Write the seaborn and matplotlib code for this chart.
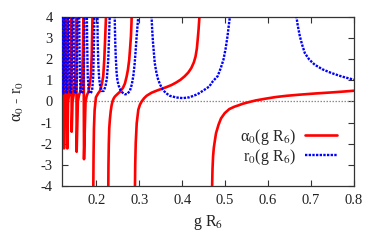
import matplotlib
matplotlib.use("Agg")
import matplotlib.pyplot as plt
from matplotlib.lines import Line2D
import seaborn as sns
import pandas as pd

# ---------------- data ----------------
# alpha_0(g R6): branches between poles (values beyond +-4 are clipped by the axes)
a0_left_g = [0.1200, 0.1215, 0.12313, 0.12429, 0.12471,
             0.12606, 0.12859, 0.13045, 0.13184, 0.13234,
             0.13411, 0.13748, 0.14000, 0.14189, 0.14257,
             0.14456, 0.14835, 0.15122, 0.15334, 0.15412,
             0.15698, 0.15951, 0.16252, 0.16681, 0.16850, 0.17005, 0.17125,
             0.17479, 0.17795, 0.18173, 0.18712, 0.18929, 0.19129]
a0_left_v = [0.20, 0.46, 1.2, 4.3, -2.22,
             0.0, 0.46, 1.2, 4.3, -2.22,
             0.0, 0.46, 1.2, 4.3, -1.43,
             0.0, 0.46, 1.2, 4.3, -2.38,
             0.0, 0.30, 0.46, 1.2, 2.2, 4.3, -2.73,
             0.0, 0.30, 0.46, 1.2, 2.2, 4.3]
a0_b2_g = [0.1928, 0.1935, 0.1944, 0.1960, 0.1990, 0.2040, 0.2084, 0.2130,
           0.2160, 0.2185, 0.2205, 0.2230]
a0_b2_v = [-4.3, -2.5, -1.27, -0.4, 0.2, 0.38, 0.5, 0.85, 1.2, 2.0, 3.0, 4.3]
a0_b3_g = [0.2277, 0.2282, 0.2290, 0.2300, 0.2315, 0.2335, 0.2356, 0.2380,
           0.2405, 0.2430, 0.2480, 0.2549, 0.2620, 0.2665, 0.2705, 0.2735,
           0.2765, 0.2785, 0.2805, 0.2818, 0.2828]
a0_b3_v = [-4.3, -3.0, -2.0, -1.27, -0.85, -0.45, -0.17, 0.03,
           0.15, 0.23, 0.33, 0.46, 0.65, 0.85, 1.18, 1.5,
           1.97, 2.5, 3.07, 3.7, 4.4]
a0_b4_g = [0.2898, 0.2905, 0.2917, 0.2940, 0.2977, 0.3015, 0.3055, 0.3110,
           0.3170, 0.3280, 0.3400, 0.3520, 0.3630, 0.3750, 0.3860, 0.3960,
           0.4055, 0.4140, 0.4210, 0.4270, 0.4310, 0.4340, 0.4360, 0.4380,
           0.4400, 0.4412]
a0_b4_v = [-4.3, -3.0, -1.97, -1.03, -0.39, -0.15, 0.0, 0.15,
           0.27, 0.41, 0.51, 0.60, 0.68, 0.78, 0.90, 1.03,
           1.19, 1.37, 1.58, 1.85, 2.13, 2.5, 2.93, 3.4,
           4.0, 4.4]
a0_b5_g = [0.4688, 0.4696, 0.4705, 0.4718, 0.4735, 0.4760, 0.4787, 0.4845,
           0.4903, 0.4990, 0.5095, 0.5210, 0.5326, 0.5403, 0.5550, 0.5710,
           0.5930, 0.6173, 0.6430, 0.6712, 0.7100, 0.7481, 0.7750, 0.8000]
a0_b5_v = [-4.3, -4.0, -3.2, -2.6, -2.2, -1.85, -1.5, -1.1,
           -0.8, -0.55, -0.36, -0.25, -0.17, -0.11, -0.03, 0.05,
           0.13, 0.21, 0.27, 0.32, 0.38, 0.43, 0.47, 0.51]

# r_0(g R6): U-shaped branches between poles
r0_u10_g = [0.12584, 0.12549, 0.12510, 0.12432, 0.12318, 0.12208, 0.12136, 0.12100, 0.12069]
r0_u9_g = [0.13393, 0.13351, 0.13304, 0.13211, 0.13074, 0.12942, 0.12857, 0.12814, 0.12778]
r0_u8_g = [0.14381, 0.14330, 0.14271, 0.14156, 0.13989, 0.13828, 0.13723, 0.13672, 0.13627]
r0_u7_g = [0.15627, 0.15561, 0.15486, 0.15339, 0.15127, 0.14924, 0.14793, 0.14728, 0.14673]
r0_u6_g = [0.17265, 0.17175, 0.17075, 0.16879, 0.16598, 0.16330, 0.16159, 0.16075, 0.16003]
r0_u5_g = [0.19555, 0.19426, 0.19281, 0.19000, 0.18602, 0.18227, 0.17990, 0.17874, 0.17775]
r0_narrow_v = [4.3, 2.7, 1.2, 0.5, 0.38, 0.5, 1.2, 2.7, 4.3]
r0_u4_g = [0.2025, 0.2030, 0.2045, 0.2065, 0.2090, 0.2130, 0.2170, 0.2210,
           0.2245, 0.2275, 0.2295, 0.2315]
r0_u4_v = [4.3, 3.0, 1.8, 1.1, 0.7, 0.5, 0.5, 0.7, 1.1, 1.9, 3.0, 4.3]
r0_u3_g = [0.2425, 0.2432, 0.2440, 0.2450, 0.2470, 0.2490, 0.2520, 0.2560,
           0.2610, 0.2665, 0.2720, 0.2780, 0.2825, 0.2860, 0.2890, 0.2915,
           0.2935, 0.2955, 0.2975, 0.2985]
r0_u3_v = [4.4, 3.5, 2.8, 2.2, 1.4, 1.0, 0.75, 0.55,
           0.42, 0.34, 0.36, 0.50, 0.80, 1.20, 1.75, 2.4,
           3.0, 3.5, 4.0, 4.4]
r0_u2_g = [0.3283, 0.3286, 0.3300, 0.3320, 0.3360, 0.3400, 0.3440, 0.3490,
           0.3550, 0.3620, 0.3710, 0.3860, 0.4016, 0.4170, 0.4325, 0.4400,
           0.4520, 0.4630, 0.4710, 0.4825, 0.4900, 0.4960, 0.5010, 0.5055,
           0.5090, 0.5110, 0.5120]
r0_u2_v = [4.4, 4.0, 3.4, 2.77, 1.82, 1.35, 1.03, 0.78,
           0.55, 0.40, 0.27, 0.19, 0.16, 0.20, 0.32, 0.40,
           0.56, 0.71, 0.95, 1.2, 1.6, 1.98, 2.5, 3.1,
           3.7, 4.0, 4.4]
r0_u1_g = [0.6655, 0.6660, 0.6690, 0.6740, 0.6790, 0.6855, 0.6960, 0.7086,
           0.7270, 0.7471, 0.7720, 0.8000]
r0_u1_v = [4.4, 4.0, 3.6, 3.08, 2.7, 2.29, 1.98, 1.74, 1.52, 1.35, 1.18, 1.03]

x_ticks = [0.2, 0.3, 0.4, 0.5, 0.6, 0.7, 0.8]
y_ticks = [-4, -3, -2, -1, 0, 1, 2, 3, 4]
label_a0 = "α$_0$(g R$_6$)"
label_r0 = "r$_0$(g R$_6$)"

# ---------------- build long table ----------------
rows = []
def add(series, branch, gs, vs):
    for g, v in zip(gs, vs):
        rows.append({"g": g, "v": v, "series": series, "branch": branch})

add("a0", "a0_left", a0_left_g, a0_left_v)
add("a0", "a0_b2", a0_b2_g, a0_b2_v)
add("a0", "a0_b3", a0_b3_g, a0_b3_v)
add("a0", "a0_b4", a0_b4_g, a0_b4_v)
add("a0", "a0_b5", a0_b5_g, a0_b5_v)
for name, gs in [("u10", r0_u10_g), ("u9", r0_u9_g), ("u8", r0_u8_g),
                 ("u7", r0_u7_g), ("u6", r0_u6_g), ("u5", r0_u5_g)]:
    add("r0", "r0_" + name, gs, r0_narrow_v)
add("r0", "r0_u4", r0_u4_g, r0_u4_v)
add("r0", "r0_u3", r0_u3_g, r0_u3_v)
add("r0", "r0_u2", r0_u2_g, r0_u2_v)
add("r0", "r0_u1", r0_u1_g, r0_u1_v)
df = pd.DataFrame(rows)

# ---------------- style ----------------
sns.set_theme(style="ticks")
plt.rcParams["font.family"] = ["Liberation Serif", "DejaVu Serif"]
plt.rcParams["mathtext.fontset"] = "stix"
plt.rcParams["axes.unicode_minus"] = False

fig = plt.figure(figsize=(3.82, 2.45), dpi=100)
ax = fig.add_axes([62 / 382, 1 - 186 / 245, (354 - 62) / 382, (186 - 17) / 245])

ax.axhline(0, color="#8c8c8c", lw=0.9, ls=(0, (1.2, 1.2)), zorder=1)

red_lw = 1.9
blue_lw = 1.7
blue_dash = (1, 0.55)

sns.lineplot(data=df[df.series == "a0"], x="g", y="v", units="branch",
             estimator=None, sort=False, color="#ff0000", lw=red_lw,
             legend=False, ax=ax, zorder=2)
n_red = len(ax.lines)
sns.lineplot(data=df[df.series == "r0"], x="g", y="v", units="branch",
             estimator=None, sort=False, color="#0000ff", lw=blue_lw,
             legend=False, ax=ax, zorder=3)
for ln in ax.lines[n_red:]:
    ln.set_dashes(blue_dash)

ax.set_xlim(0.12, 0.8)
ax.set_ylim(-4, 4)
ax.set_xticks(x_ticks)
ax.set_xticklabels([f"{t:.1f}" for t in x_ticks])
ax.set_yticks(y_ticks)
ax.set_yticklabels([str(t) for t in y_ticks])
ax.tick_params(direction="in", length=4, width=0.8, color="#333333",
               top=True, right=True, labelsize=10.5, labelcolor="#222222")
ax.tick_params(axis="x", pad=6)
ax.tick_params(axis="y", pad=6.5)
for sp in ax.spines.values():
    sp.set_color("#333333")
    sp.set_linewidth(0.9)

ax.set_xlabel("g R$_6$", fontsize=11.5, color="#222222")
ax.set_ylabel("α$_0$ - r$_0$", fontsize=11.5, color="#222222")
ax.xaxis.set_label_coords(0.5, -0.16)
ax.yaxis.set_label_coords(-0.125, 0.5)

handles = [Line2D([], [], color="#ff0000", lw=red_lw),
           Line2D([], [], color="#0000ff", lw=blue_lw, dashes=blue_dash)]
ax.legend(handles, [label_a0, label_r0], markerfirst=False, frameon=False,
          fontsize=11.5, handlelength=2.0, handletextpad=0.55, labelspacing=0.0,
          borderpad=0, borderaxespad=0, loc="upper right",
          bbox_to_anchor=(337 / 382, 1 - 127 / 245),
          bbox_transform=fig.transFigure)

fig.savefig("out.png", dpi=100)
